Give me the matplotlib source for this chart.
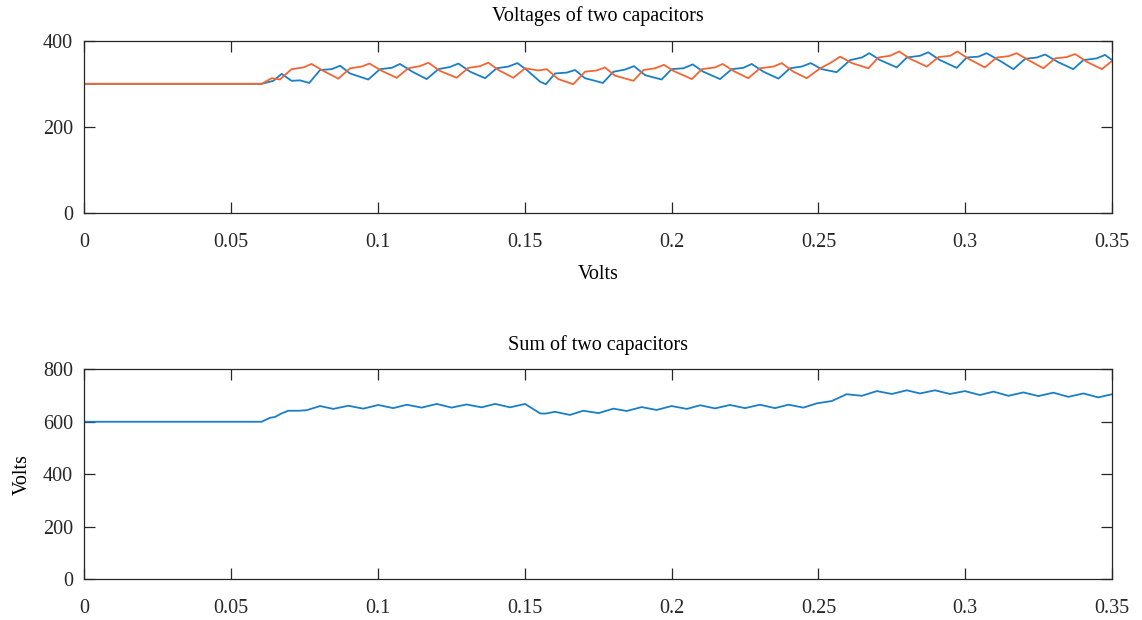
import numpy as np
import matplotlib
matplotlib.use("Agg")
import matplotlib.pyplot as plt

plt.rcParams['font.family'] = ['Liberation Serif', 'DejaVu Serif']

# capacitor 1 voltage (blue)
t_c1 = [0.0, 0.0604, 0.0644, 0.0672, 0.0706, 0.0735, 0.0766, 0.0803, 0.0843, 0.0871,
        0.0905, 0.0967, 0.1007, 0.1047, 0.1075, 0.1120, 0.1166, 0.1206, 0.1245, 0.1274,
        0.1314, 0.1365, 0.1404, 0.1444, 0.1475, 0.1507, 0.1552, 0.1572, 0.1603, 0.1643,
        0.1671, 0.1705, 0.1739, 0.1766, 0.1802, 0.1841, 0.1872, 0.1910, 0.1966, 0.2000,
        0.2040, 0.2072, 0.2108, 0.2165, 0.2205, 0.2244, 0.2273, 0.2313, 0.2364, 0.2403,
        0.2443, 0.2474, 0.2511, 0.2562, 0.2608, 0.2648, 0.2673, 0.2710, 0.2767, 0.2801,
        0.2846, 0.2874, 0.2914, 0.2971, 0.3005, 0.3045, 0.3073, 0.3119, 0.3164, 0.3204,
        0.3244, 0.3272, 0.3317, 0.3368, 0.3402, 0.3448, 0.3476, 0.3500]
v_c1 = [300, 300, 307, 323, 307, 308, 302, 332, 334, 342,
        324, 310, 334, 337, 346, 327, 311, 334, 339, 347,
        328, 313, 336, 340, 348, 332, 305, 299, 324, 326,
        332, 313, 307, 302, 328, 333, 341, 320, 310, 334,
        336, 345, 328, 311, 334, 337, 346, 328, 312, 336,
        340, 348, 334, 327, 355, 361, 371, 355, 338, 361,
        365, 373, 355, 337, 361, 363, 371, 353, 334, 358,
        361, 368, 350, 334, 355, 359, 367, 355]

# capacitor 2 voltage (orange)
t_c2 = [0.0, 0.0604, 0.0638, 0.0666, 0.0706, 0.0746, 0.0774, 0.0814, 0.0865, 0.0905,
        0.0945, 0.0971, 0.1013, 0.1064, 0.1103, 0.1143, 0.1172, 0.1211, 0.1268, 0.1308,
        0.1348, 0.1376, 0.1410, 0.1461, 0.1501, 0.1546, 0.1575, 0.1614, 0.1665, 0.1705,
        0.1745, 0.1773, 0.1807, 0.1870, 0.1904, 0.1944, 0.1974, 0.2006, 0.2069, 0.2103,
        0.2148, 0.2174, 0.2210, 0.2261, 0.2301, 0.2347, 0.2375, 0.2415, 0.2460, 0.2506,
        0.2540, 0.2574, 0.2614, 0.2670, 0.2704, 0.2744, 0.2775, 0.2812, 0.2869, 0.2909,
        0.2949, 0.2973, 0.3011, 0.3067, 0.3107, 0.3147, 0.3175, 0.3215, 0.3266, 0.3306,
        0.3346, 0.3374, 0.3414, 0.3465, 0.3500]
v_c2 = [300, 300, 313, 310, 334, 338, 346, 330, 312, 336,
        340, 347, 330, 314, 336, 341, 349, 330, 314, 337,
        341, 349, 332, 314, 336, 331, 334, 311, 299, 328,
        331, 338, 319, 307, 332, 336, 344, 330, 311, 334,
        338, 346, 330, 313, 336, 340, 348, 328, 313, 336,
        348, 363, 348, 336, 361, 365, 375, 358, 340, 362,
        365, 375, 358, 338, 361, 364, 371, 355, 336, 359,
        362, 369, 351, 334, 353]

# sum of both capacitors
t_sum = [0.0, 0.0604, 0.0632, 0.0649, 0.0672, 0.0695, 0.0729, 0.0757, 0.0803, 0.0848,
         0.0899, 0.0950, 0.1001, 0.1052, 0.1098, 0.1149, 0.1200, 0.1251, 0.1302, 0.1353,
         0.1399, 0.1450, 0.1501, 0.1552, 0.1569, 0.1603, 0.1654, 0.1699, 0.1751, 0.1802,
         0.1847, 0.1898, 0.1949, 0.2000, 0.2052, 0.2097, 0.2148, 0.2199, 0.2250, 0.2301,
         0.2352, 0.2398, 0.2449, 0.2494, 0.2545, 0.2596, 0.2648, 0.2699, 0.2750, 0.2801,
         0.2846, 0.2897, 0.2948, 0.2999, 0.3050, 0.3096, 0.3147, 0.3198, 0.3249, 0.3300,
         0.3351, 0.3402, 0.3453, 0.3500]
v_sum = [600, 600, 615, 618, 632, 642, 642, 644, 660, 649,
         661, 650, 664, 652, 665, 654, 668, 654, 666, 655,
         668, 655, 668, 632, 631, 638, 626, 642, 633, 650,
         641, 656, 645, 660, 649, 663, 651, 664, 652, 665,
         652, 665, 654, 670, 679, 705, 699, 717, 706, 720,
         708, 720, 706, 717, 702, 715, 699, 712, 698, 711,
         695, 708, 693, 705]

blue = '#1a7fc6'
orange = '#f26634'
xticks = [0, 0.05, 0.1, 0.15, 0.2, 0.25, 0.3, 0.35]
xticklabels = ['0', '0.05', '0.1', '0.15', '0.2', '0.25', '0.3', '0.35']

fig = plt.figure(figsize=(11.42, 6.2), dpi=100)
ax1 = fig.add_axes([0.0738, 0.656, 0.900, 0.2784])
ax2 = fig.add_axes([0.0738, 0.0661, 0.900, 0.3382])

ax1.plot(t_c1, v_c1, color=blue, lw=1.3)
ax1.plot(t_c2, v_c2, color=orange, lw=1.3)
ax1.set_ylim(0, 400)
ax1.set_yticks([0, 200, 400])
ax1.set_title('Voltages of two capacitors', fontsize=14.5, pad=14)
ax1.set_xlabel('Volts', fontsize=14.5, labelpad=9)

ax2.plot(t_sum, v_sum, color=blue, lw=1.3)
ax2.set_ylim(0, 800)
ax2.set_yticks([0, 200, 400, 600, 800])
ax2.set_title('Sum of two capacitors', fontsize=14.5, pad=14)
ax2.set_ylabel('Volts', fontsize=14.5, labelpad=8)

for ax in (ax1, ax2):
    ax.set_xlim(0, 0.35)
    ax.set_xticks(xticks)
    ax.set_xticklabels(xticklabels)
    ax.tick_params(direction='in', length=8, width=0.9, top=True, right=True,
                   labelsize=14.5, colors='#262626')
    ax.tick_params(axis='x', pad=14.5)
    ax.tick_params(axis='y', pad=8)
    for s in ax.spines.values():
        s.set_linewidth(0.9)
        s.set_color('#262626')

fig.savefig('out.png', dpi=100)
